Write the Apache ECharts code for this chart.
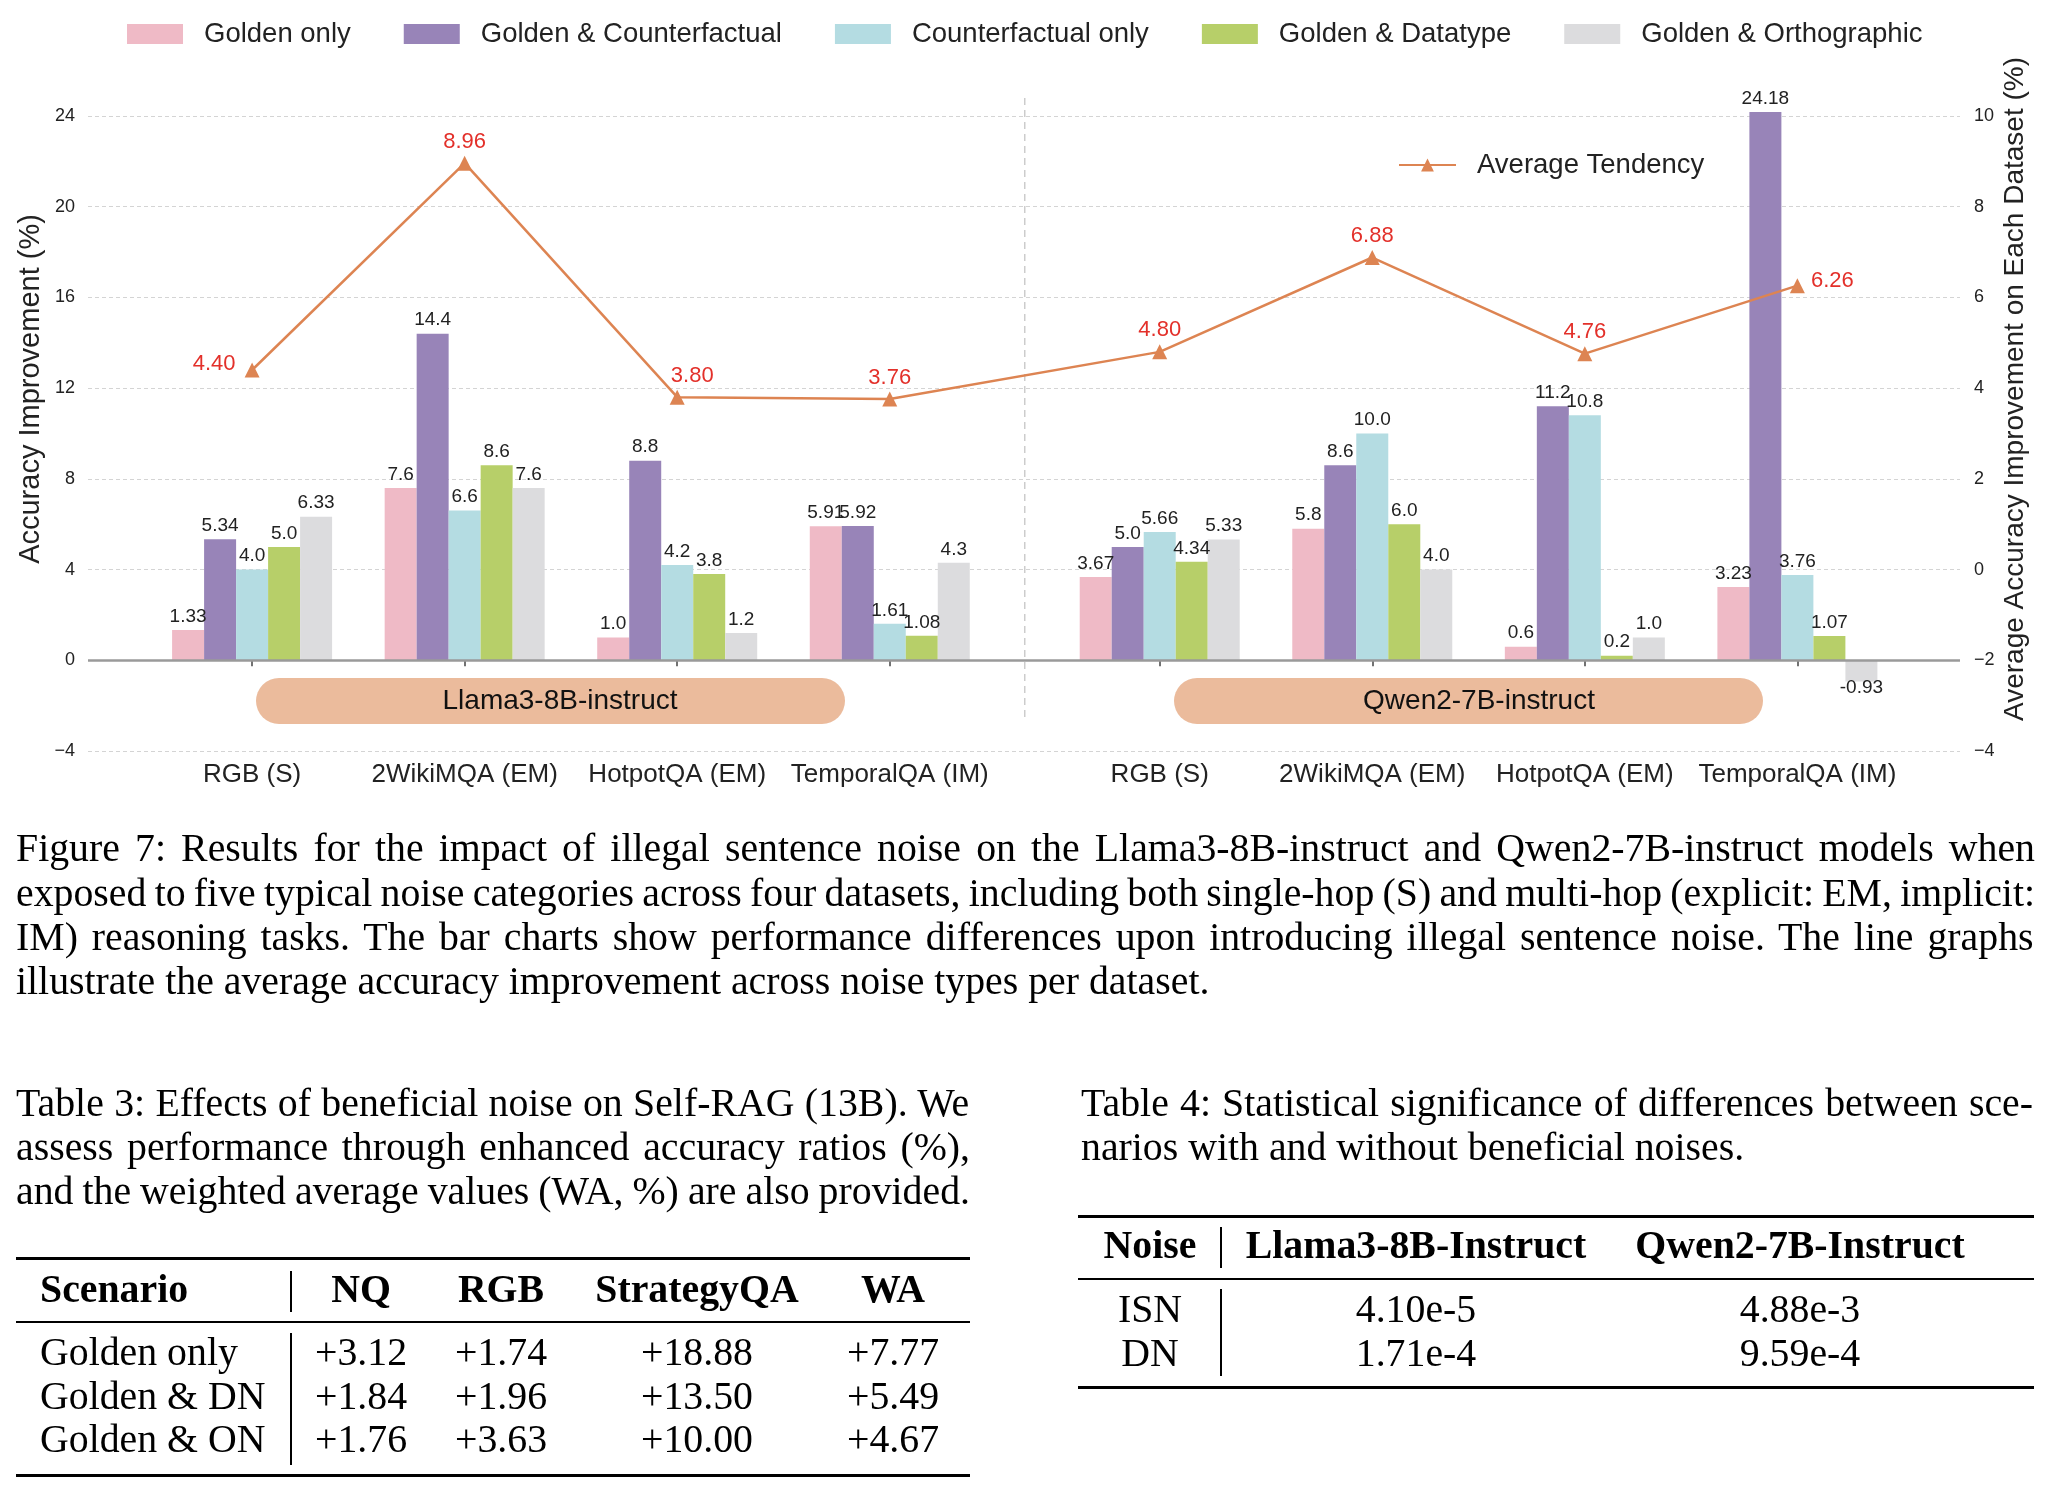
<!DOCTYPE html>
<html>
<head>
<meta charset="utf-8">
<script src="https://cdn.jsdelivr.net/npm/echarts@6/dist/echarts.min.js"></script>
<style>
  html, body { margin:0; padding:0; background:#fff; }
  #wrap { position:relative; width:2050px; height:1488px; overflow:hidden; }
  #chart { position:absolute; left:0; top:0; width:2050px; height:1488px; }
  #txt { position:absolute; left:0; top:0; width:2050px; height:1488px; pointer-events:none; color:#000; }
  .t { position:absolute; white-space:nowrap; font-family:'Liberation Serif','Times New Roman',Times,serif; }
  .rule { position:absolute; background:#000; }
</style>
</head>
<body>
<div id="wrap">
  <div id="chart"></div>
  <div id="txt"></div>
</div>
<script>
// ---------------- data ----------------
const categories = ['RGB (S)', '2WikiMQA (EM)', 'HotpotQA (EM)', 'TemporalQA (IM)',
                    'RGB (S)', '2WikiMQA (EM)', 'HotpotQA (EM)', 'TemporalQA (IM)'];
const seriesNames = ['Golden only', 'Golden & Counterfactual', 'Counterfactual only', 'Golden & Datatype', 'Golden & Orthographic'];
const goldenOnly           = [1.33, 7.6, 1.0, 5.91,   3.67, 5.8, 0.6, 3.23];
const goldenCounterfactual = [5.34, 14.4, 8.8, 5.92,  5.0, 8.6, 11.2, 24.18];
const counterfactualOnly   = [4.0, 6.6, 4.2, 1.61,    5.66, 10.0, 10.8, 3.76];
const goldenDatatype       = [5.0, 8.6, 3.8, 1.08,    4.34, 6.0, 0.2, 1.07];
const goldenOrthographic   = [6.33, 7.6, 1.2, 4.3,    5.33, 4.0, 1.0, -0.93];
const averageTendency      = [4.40, 8.96, 3.80, 3.76, 4.80, 6.88, 4.76, 6.26];
const lineName = 'Average Tendency';
const modelNames = ['Llama3-8B-instruct', 'Qwen2-7B-instruct'];
const leftAxisRange = [-4, 24, 4];
const rightAxisRange = [-4, 10, 2];

const captionLines = [
  'Figure 7: Results for the impact of illegal sentence noise on the Llama3-8B-instruct and Qwen2-7B-instruct models when',
  'exposed to five typical noise categories across four datasets, including both single-hop (S) and multi-hop (explicit: EM, implicit:',
  'IM) reasoning tasks. The bar charts show performance differences upon introducing illegal sentence noise. The line graphs',
  'illustrate the average accuracy improvement across noise types per dataset.'
];
const table3Caption = [
  'Table 3: Effects of beneficial noise on Self-RAG (13B). We',
  'assess performance through enhanced accuracy ratios (%),',
  'and the weighted average values (WA, %) are also provided.'
];
const table3Header = ['Scenario', 'NQ', 'RGB', 'StrategyQA', 'WA'];
const table3Rows = [
  ['Golden only', '+3.12', '+1.74', '+18.88', '+7.77'],
  ['Golden & DN', '+1.84', '+1.96', '+13.50', '+5.49'],
  ['Golden & ON', '+1.76', '+3.63', '+10.00', '+4.67']
];
const table4Caption = [
  'Table 4: Statistical significance of differences between sce-',
  'narios with and without beneficial noises.'
];
const table4Header = ['Noise', 'Llama3-8B-Instruct', 'Qwen2-7B-Instruct'];
const table4Rows = [
  ['ISN', '4.10e-5', '4.88e-3'],
  ['DN', '1.71e-4', '9.59e-4']
];

// ---------------- layout ----------------
const SANS = "'Liberation Sans', Arial, Helvetica, sans-serif";
const groupGap = 0.27;
const xPos = categories.map((c, i) => i + (i >= 4 ? groupGap : 0));
const sepX = (xPos[3] + xPos[4]) / 2;
const barColors = ['#EFBAC6', '#9884B8', '#B4DCE2', '#B7CF69', '#DCDCDE'];
const lineColor = '#DD8452';
const redLabel = '#E3302A';
const minus = s => String(s).replace('-', '\u2212');
const fmtBar = v => {
  const twoDec = Math.round(Math.abs(v) * 100) % 10 !== 0;
  return v.toFixed(twoDec ? 2 : 1);
};
const nearestCat = v => {
  let best = 0, bd = 1e9;
  xPos.forEach((x, i) => { const d = Math.abs(x - v); if (d < bd) { bd = d; best = i; } });
  return categories[best];
};

const barData = [goldenOnly, goldenCounterfactual, counterfactualOnly, goldenDatatype, goldenOrthographic];

const series = barData.map((vals, k) => {
  const s = {
    name: seriesNames[k],
    type: 'bar',
    xAxisIndex: 0, yAxisIndex: 0,
    barWidth: 32, barGap: '0%',
    clip: false,
    itemStyle: { color: barColors[k] },
    label: {
      show: true, position: 'top', distance: 4,
      fontSize: 19, color: '#222', fontFamily: SANS,
      formatter: p => fmtBar(p.value[1])
    },
    data: vals.map((v, i) => v < 0
      ? { value: [xPos[i], v], label: { position: 'bottom', distance: -3 } }
      : { value: [xPos[i], v] })
  };
  if (k === 0) {
    s.markLine = {
      silent: true, symbol: 'none', animation: false,
      label: { show: false },
      data: [
        { yAxis: 0, lineStyle: { color: '#9a9a9a', width: 2.5, type: 'solid' } }
      ]
    };
  }
  return s;
});

const lineLabelPos = averageTendency.map((v, i) => i === 0 ? 'left' : (i === averageTendency.length - 1 ? 'right' : 'top'));
series.push({
  name: lineName,
  type: 'line',
  xAxisIndex: 0, yAxisIndex: 1,
  z: 5,
  clip: false,
  symbol: 'triangle', symbolSize: 15,
  lineStyle: { color: lineColor, width: 2.5 },
  itemStyle: { color: lineColor },
  label: {
    show: true, fontSize: 22, color: redLabel, fontFamily: SANS,
    formatter: p => p.value[1].toFixed(2)
  },
  data: averageTendency.map((v, i) => {
    const pos = lineLabelPos[i];
    let lab;
    if (pos === 'left') lab = { position: 'left', distance: 9, offset: [0, -6] };
    else if (pos === 'right') lab = { position: 'right', distance: 6, offset: [0, -5] };
    else lab = { position: 'top', distance: 3, offset: i === 2 ? [15, 0] : [0, 0] };
    return { value: [xPos[i], v], label: lab };
  })
});

const chart = echarts.init(document.getElementById('chart'), null, { renderer: 'canvas' });

const graphics = [
  {
    type: 'rect', z: 1,
    shape: { x: 256, y: 678, width: 589, height: 46, r: 23 },
    style: { fill: '#EBBB9C' }
  },
  {
    type: 'text', z: 2, x: 560, y: 701,
    style: { text: modelNames[0], font: '28px ' + SANS, fill: '#111', align: 'center', verticalAlign: 'middle' }
  },
  {
    type: 'rect', z: 1,
    shape: { x: 1174, y: 678, width: 589, height: 46, r: 23 },
    style: { fill: '#EBBB9C' }
  },
  {
    type: 'text', z: 2, x: 1479, y: 701,
    style: { text: modelNames[1], font: '28px ' + SANS, fill: '#111', align: 'center', verticalAlign: 'middle' }
  },
  {
    type: 'text', x: 31, y: 389, rotation: Math.PI / 2,
    style: { text: 'Accuracy Improvement (%)', font: '29px ' + SANS, fill: '#222', align: 'center', verticalAlign: 'middle' }
  },
  {
    type: 'text', x: 2015, y: 389, rotation: Math.PI / 2,
    style: { text: 'Average Accuracy Improvement on Each Dataset (%)', font: '28px ' + SANS, fill: '#222', align: 'center', verticalAlign: 'middle' }
  }
];

const option = {
  backgroundColor: '#ffffff',
  animation: false,
  textStyle: { fontFamily: SANS },
  grid: { left: 88, right: 90, top: 116, bottom: 1488 - 751, containLabel: false },
  legend: [
    {
      data: seriesNames,
      left: 122, top: 15,
      itemWidth: 56, itemHeight: 20, itemGap: 53,
      icon: 'rect',
      textStyle: { fontSize: 27.5, color: '#222', fontFamily: SANS, padding: [0, 0, 0, 16] },
      selectedMode: false
    },
    {
      data: [lineName],
      left: 1393, top: 146,
      itemWidth: 57, itemHeight: 16, itemGap: 10,
      textStyle: { fontSize: 27.5, color: '#222', fontFamily: SANS, padding: [0, 0, 0, 16] },
      selectedMode: false
    }
  ],
  xAxis: {
    type: 'value',
    min: -0.772, max: 8.035,
    splitLine: { show: false },
    axisLine: { show: false },
    axisTick: { show: true, customValues: xPos, length: 6, lineStyle: { color: '#444', width: 1.5 } },
    axisLabel: {
      customValues: xPos, margin: 11,
      fontSize: 26, color: '#222', fontFamily: SANS,
      formatter: v => nearestCat(v)
    }
  },
  yAxis: [
    {
      type: 'value', position: 'left',
      min: leftAxisRange[0], max: leftAxisRange[1], interval: leftAxisRange[2],
      axisLine: { show: false }, axisTick: { show: false },
      axisLabel: { fontSize: 18, color: '#222', margin: 13, fontFamily: SANS, formatter: v => minus(v) },
      splitLine: { show: true, lineStyle: { color: '#d4d4d4', width: 1.2, type: [4, 3] } }
    },
    {
      type: 'value', position: 'right',
      min: rightAxisRange[0], max: rightAxisRange[1], interval: rightAxisRange[2],
      axisLine: { show: false }, axisTick: { show: false },
      axisLabel: { fontSize: 18, color: '#222', margin: 14, fontFamily: SANS, formatter: v => minus(v) },
      splitLine: { show: false }
    }
  ],
  graphic: graphics,
  series: series
};
chart.setOption(option);

// vertical dashed separator between the two model groups, placed through the x scale
const sepPx = chart.convertToPixel({ xAxisIndex: 0 }, sepX);
graphics.push({
  type: 'line', z: 0, silent: true,
  shape: { x1: sepPx, y1: 98, x2: sepPx, y2: 720 },
  style: { stroke: '#cccccc', lineWidth: 1.5, lineDash: [7, 5] }
});
chart.setOption({ graphic: graphics });

// ---------------- caption & tables (HTML text) ----------------
const SERIF = "'Liberation Serif','Times New Roman',Times,serif";
const cv = document.createElement('canvas').getContext('2d');
function measure(text, fs, bold) {
  cv.font = (bold ? 'bold ' : '') + fs + 'px ' + SERIF;
  return cv.measureText(text).width;
}
const host = document.getElementById('txt');
const FS = Math.round(10 * 1193 * 100 / measure(captionLines[3], 100, false)) / 10;

function place(text, opt) {
  const fs = opt.fs || FS;
  const d = document.createElement('div');
  d.className = 't';
  d.textContent = text;
  d.style.fontSize = fs + 'px';
  d.style.lineHeight = fs + 'px';
  if (opt.bold) d.style.fontWeight = 'bold';
  d.style.top = (opt.y - fs * 0.5) + 'px';
  const w = measure(text, fs, opt.bold);
  if (opt.align === 'justify') {
    const spaces = (text.match(/ /g) || []).length;
    if (spaces > 0) d.style.wordSpacing = ((opt.width - w) / spaces) + 'px';
    d.style.left = opt.x + 'px';
  } else if (opt.align === 'center') {
    d.style.left = (opt.x - w / 2) + 'px';
  } else {
    d.style.left = opt.x + 'px';
  }
  host.appendChild(d);
}
function rule(x1, x2, y, h) {
  const r = document.createElement('div');
  r.className = 'rule';
  r.style.left = x1 + 'px'; r.style.width = (x2 - x1) + 'px';
  r.style.top = (y - h / 2) + 'px'; r.style.height = h + 'px';
  host.appendChild(r);
}
function vbar(x, y1, y2) {
  const r = document.createElement('div');
  r.className = 'rule';
  r.style.left = (x - 0.75) + 'px'; r.style.width = '1.5px';
  r.style.top = y1 + 'px'; r.style.height = (y2 - y1) + 'px';
  host.appendChild(r);
}

// Figure caption
const capY = [849, 894, 938, 982];
captionLines.forEach((l, i) => {
  place(l, { x: 16, y: capY[i], width: 2035 - 16, align: i < captionLines.length - 1 ? 'justify' : 'left' });
});

// Table 3
const t3CapY = [1104, 1148, 1192];
table3Caption.forEach((l, i) => place(l, { x: 16, y: t3CapY[i], width: 970 - 16, align: 'justify' }));
rule(16, 970, 1258, 3);
rule(16, 970, 1322, 1.6);
rule(16, 970, 1475, 3);
vbar(291, 1271, 1312);
vbar(291, 1333, 1465);
const t3ColX = [40, 361, 501, 697, 893];
table3Header.forEach((h, j) => place(h, { x: t3ColX[j], y: 1290, bold: true, align: j === 0 ? 'left' : 'center' }));
const t3RowY = [1353, 1397, 1440];
table3Rows.forEach((row, r) => row.forEach((c, j) =>
  place(c, { x: t3ColX[j], y: t3RowY[r], align: j === 0 ? 'left' : 'center' })));

// Table 4
const t4CapY = [1104, 1148];
place(table4Caption[0], { x: 1081, y: t4CapY[0], width: 2033 - 1081, align: 'justify' });
place(table4Caption[1], { x: 1081, y: t4CapY[1], align: 'left' });
rule(1078, 2034, 1216, 3);
rule(1078, 2034, 1279, 1.6);
rule(1078, 2034, 1387, 3);
vbar(1221, 1227, 1268);
vbar(1221, 1289, 1376);
const t4ColX = [1150, 1416, 1800];
table4Header.forEach((h, j) => place(h, { x: t4ColX[j], y: 1246, bold: true, align: 'center' }));
const t4RowY = [1310, 1354];
table4Rows.forEach((row, r) => row.forEach((c, j) =>
  place(c, { x: t4ColX[j], y: t4RowY[r], align: 'center' })));
</script>
</body>
</html>
